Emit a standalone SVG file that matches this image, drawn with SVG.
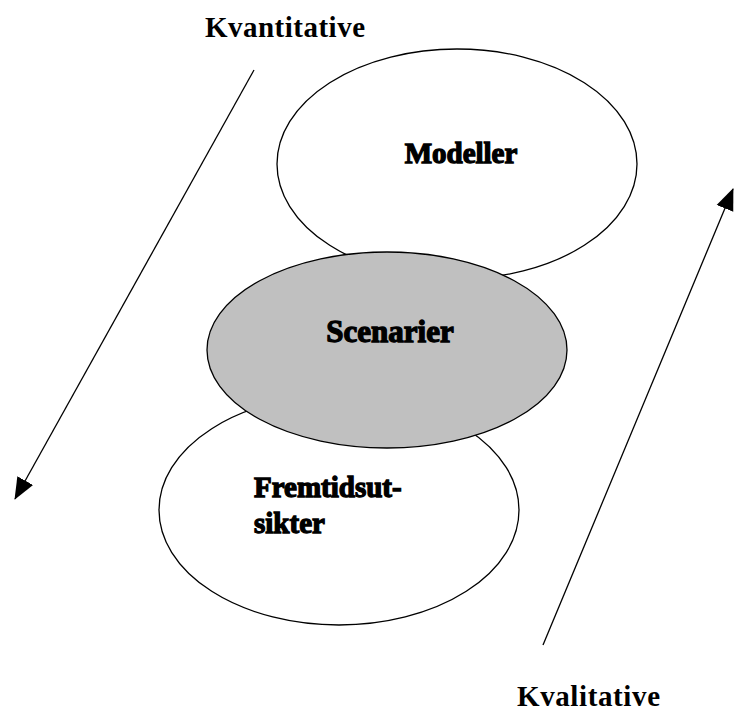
<svg xmlns="http://www.w3.org/2000/svg" width="734" height="715" viewBox="0 0 734 715">
<style>
.e{stroke:#000;stroke-width:1.3;fill:#fff}
.g{fill:#c0c0c0}
.t{font-family:"Liberation Serif",serif;font-weight:bold;font-size:29px;fill:#000;stroke:#000;stroke-width:1.3}
.l{font-family:"Liberation Serif",serif;font-weight:bold;font-size:29px;fill:#000}
.c{stroke:#000;stroke-width:1.3;fill:none;marker-end:url(#ah)}
</style>
<defs>
<marker id="ah" markerWidth="22" markerHeight="20" refX="21" refY="9" orient="auto" markerUnits="userSpaceOnUse" viewBox="0 0 22 18">
<path d="M0,0 L22,9 L0,18 Z" fill="#000"/>
</marker>
</defs>
<rect width="734" height="715" fill="#fff"/>
<g id="connectors">
<line class="c" x1="254" y1="70" x2="15" y2="499"/>
<line class="c" x1="543" y1="645" x2="733" y2="189"/>
</g>
<g id="modeller">
<ellipse class="e" cx="457" cy="164" rx="180" ry="115"/>
<text class="t" x="461" y="163" text-anchor="middle">Modeller</text>
</g>
<g id="fremtidsutsikter">
<ellipse class="e" cx="339" cy="510" rx="180" ry="115"/>
<text class="t" x="254" y="497">Fremtidsut-</text>
<text class="t" x="254" y="533">sikter</text>
</g>
<g id="scenarier">
<ellipse class="e g" cx="387" cy="350" rx="180" ry="98"/>
<text class="t" x="390" y="342" text-anchor="middle" style="font-size:31px">Scenarier</text>
</g>
<g id="kvantitative">
<text class="l" x="205" y="37" textLength="160">Kvantitative</text>
</g>
<g id="kvalitative">
<text class="l" x="517" y="706" textLength="143">Kvalitative</text>
</g>
</svg>
